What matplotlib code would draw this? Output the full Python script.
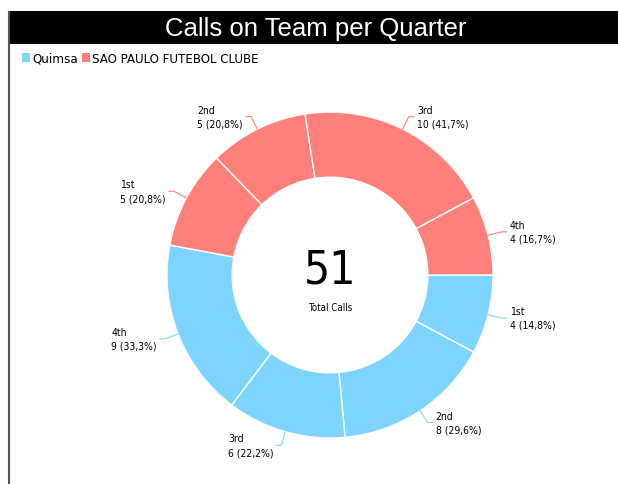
import numpy as np
import matplotlib
matplotlib.use("Agg")
import matplotlib.pyplot as plt
from matplotlib.patches import Patch, Rectangle
from matplotlib import font_manager

# data
teams = ["Quimsa", "SAO PAULO FUTEBOL CLUBE"]
quarters = ["1st", "2nd", "3rd", "4th"]
quimsa_calls = [4, 8, 6, 9]
spfc_calls = [5, 5, 10, 4]
team_colors = ["#7dd5ff", "#ff7f7a"]

total = sum(quimsa_calls) + sum(spfc_calls)

# narrow sans for the labels (Tahoma-like look), fall back to plain DejaVu Sans
label_font = "DejaVu Sans"
label_stretch = "condensed" if any("Condensed" in f.fname for f in font_manager.fontManager.ttflist
                                   if f.name == "DejaVu Sans") else "normal"

W, H = 618, 485
fig = plt.figure(figsize=(W / 100, H / 100), dpi=100)
ax = fig.add_axes([0, 0, 1, 1])

# donut
cx, cy, R = 330, 276, 163
values = quimsa_calls + spfc_calls
colors = [team_colors[0]] * len(quimsa_calls) + [team_colors[1]] * len(spfc_calls)
wedges, _ = ax.pie(values, colors=colors, startangle=0, counterclock=True,
                   radius=R, center=(cx, cy), frame=True,
                   wedgeprops=dict(width=R * 0.4, edgecolor="white", linewidth=1))
ax.set_xlim(0, W)
ax.set_ylim(H, 0)  # pixel-like coords, y down
ax.axis("off")

# frame: black title bar and left border
ax.add_patch(Rectangle((9, 12), W - 9, 33, facecolor="black", edgecolor="none"))
ax.plot([9, 9], [12, H], color="#555555", lw=1.5, solid_capstyle="butt")
ax.text(316, 29, "Calls on Team per Quarter", color="white", fontsize=18.5,
        family="Liberation Sans", ha="center", va="center")

labels = []
for calls in (quimsa_calls, spfc_calls):
    s = sum(calls)
    for q, v in zip(quarters, calls):
        pct = f"{v / s * 100:.1f}".replace(".", ",")
        labels.append(f"{q}\n{v} ({pct}%)")

for w, lab, col in zip(wedges, labels, colors):
    mid = np.deg2rad((w.theta1 + w.theta2) / 2)
    x0, y0 = cx + R * np.cos(mid), cy + R * np.sin(mid)
    x1, y1 = cx + (R + 14) * np.cos(mid), cy + (R + 14) * np.sin(mid)
    side = 1 if np.cos(mid) >= 0 else -1
    x2 = x1 + side * 5
    ax.plot([x0, x1, x2], [y0, y1, y1], color=col, lw=0.8)
    ax.text(x2 + side * 3, y1, lab, fontsize=7.5, family=label_font, fontstretch=label_stretch,
            ha="left" if side > 0 else "right", multialignment="left",
            va="center", linespacing=1.45, color="black")

ax.text(cx, cy - 5, str(total), fontsize=33, family=label_font, fontstretch=label_stretch,
        ha="center", va="center")
ax.text(cx, cy + 32, "Total Calls", fontsize=7, family=label_font, fontstretch=label_stretch,
        ha="center", va="center")

handles = [Patch(facecolor=c, edgecolor="none") for c in team_colors]
fig.legend(handles, teams, loc="upper left", bbox_to_anchor=(22 / W, 1 - 53 / H),
           ncol=2, frameon=False, handlelength=0.6, handleheight=0.6,
           prop=dict(family=label_font, stretch=label_stretch, size=9.5),
           handletextpad=0.15, columnspacing=0.35, borderpad=0, borderaxespad=0)

fig.savefig("out.png", dpi=100)
